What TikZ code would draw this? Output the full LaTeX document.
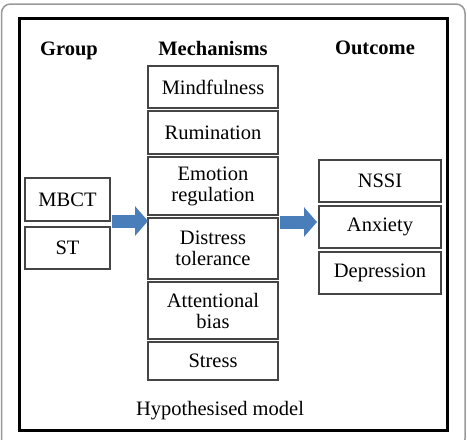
\documentclass[tikz,border=0pt]{standalone}
\usepackage{fontspec}
\setmainfont{Liberation Serif}
\usepackage{tikz}
\usetikzlibrary{arrows.meta}

\definecolor{arrowblue}{HTML}{4A7EBB}
\definecolor{boxgray}{HTML}{454545}

\begin{document}
\begin{tikzpicture}
  [x=1pt,y=-1pt,
   every node/.style={font=\fontsize{20.5}{21}\selectfont,align=center,inner sep=0pt},
   box/.style={draw=boxgray,line width=1.4pt},
   mech/.style={box,minimum width=130pt},
   grp/.style={box,minimum width=85pt},
   outc/.style={box,minimum width=122pt},
   head/.style={font=\fontsize{20.5}{21}\selectfont\bfseries,anchor=base},
   blockarrow/.style={draw=arrowblue,line width=13pt,-{Triangle[length=13pt,width=29pt]}}]
  \useasboundingbox (0,0) rectangle (467,440);
  \draw[black!40,line width=1.5pt,rounded corners=9pt] (1.5,4) rectangle (465,448);
  \draw[line width=3pt] (19,18) rectangle (447,430);

  \node[head] (hgrp) at (69,55) {Group};
  \node[head] (hmech) at (213,55) {Mechanisms};
  \node[head] (hout) at (375,54) {Outcome};

  \node[mech,minimum height=42pt] (mind) at (213,87) {Mindfulness};
  \node[mech,minimum height=43pt] (rum) at (213,132.5) {Rumination};
  \node[mech,minimum height=58pt] (emo) at (213,186) {Emotion\\regulation};
  \node[mech,minimum height=61pt] (dist) at (213,248.5) {Distress\\tolerance};
  \node[mech,minimum height=57pt] (att) at (213,310.5) {Attentional\\bias};
  \node[mech,minimum height=38pt] (stress) at (213,361) {Stress};

  \node[grp,minimum height=43pt] (mbct) at (67.5,199.5) {MBCT};
  \node[grp,minimum height=42pt] (st) at (67.5,248) {ST};

  \node[outc,minimum height=42pt] (nssi) at (380,181) {NSSI};
  \node[outc,minimum height=42pt] (anx) at (380,227) {Anxiety};
  \node[outc,minimum height=42pt] (dep) at (380,273) {Depression};

  \node[anchor=base] (model) at (220,415) {Hypothesised model};

  \coordinate (a1s) at (112,221);
  \coordinate (a1e) at (148,221);
  \coordinate (a2s) at (280,222);
  \coordinate (a2e) at (317,222);
  \draw[blockarrow] (a1s) -- (a1e);
  \draw[blockarrow] (a2s) -- (a2e);
\end{tikzpicture}
\end{document}
